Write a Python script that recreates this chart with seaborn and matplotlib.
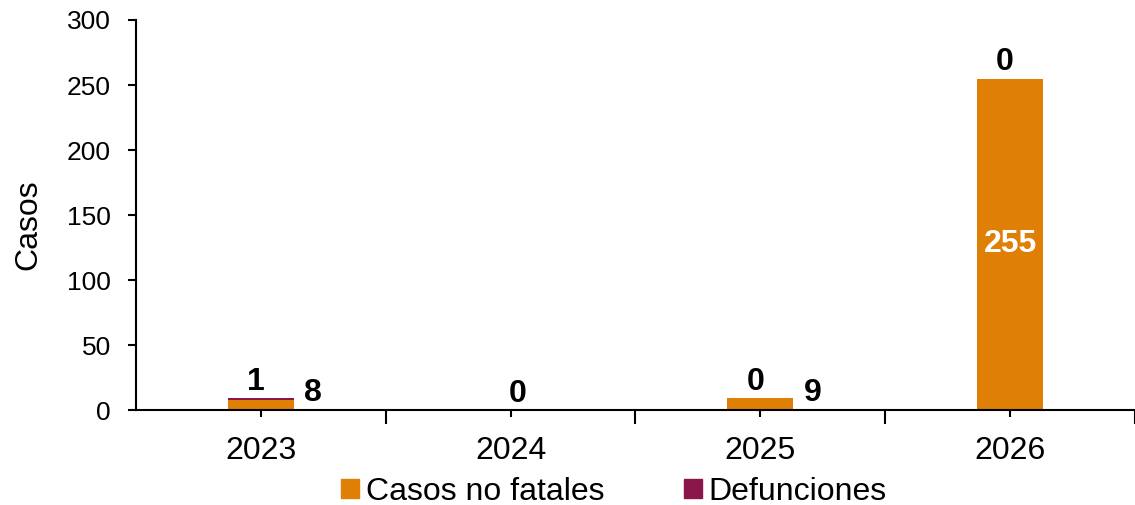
import matplotlib
matplotlib.use("Agg")
import matplotlib.pyplot as plt
import seaborn as sns
from matplotlib.patches import Patch
from matplotlib.ticker import FixedLocator
from pandas import DataFrame

sns.set_theme(style="white")
plt.rcParams["font.family"] = ["Liberation Sans", "DejaVu Sans"]
plt.rcParams["text.color"] = "black"
plt.rcParams["xtick.color"] = "black"
plt.rcParams["ytick.color"] = "black"
plt.rcParams["axes.labelcolor"] = "black"

years = ["2023", "2024", "2025", "2026"]
noFatales = [8, 0, 9, 255]
defunciones = [1, 0, 0, 0]

orange = "#E07F05"
purple = "#8B1649"

df = DataFrame({"year": years, "no_fatales": noFatales, "defunciones": defunciones})
df["total"] = df["no_fatales"] + df["defunciones"]

fig = plt.figure(figsize=(11.35, 5.05), dpi=100)
ax = fig.add_axes([0.1198, 0.188, 0.8802, 0.7724])

# total first (purple), then non-fatal on top of it -> stacked look
sns.barplot(x="year", y="total", data=df, color=purple, width=0.264,
            saturation=1, linewidth=0, edgecolor="none", ax=ax)
sns.barplot(x="year", y="no_fatales", data=df, color=orange, width=0.264,
            saturation=1, linewidth=0, edgecolor="none", ax=ax)

ax.set_ylim(0, 300)
ax.set_xlim(-0.5, 3.5)
ax.set_yticks(range(0, 301, 50))
ax.set_xlabel("")
ax.set_ylabel("Casos", fontsize=23)
ax.yaxis.set_label_coords(-0.093, 0.474)

for s in ["top", "right"]:
    ax.spines[s].set_visible(False)
for s in ["left", "bottom"]:
    ax.spines[s].set_color("black")
    ax.spines[s].set_linewidth(1.5)

ax.tick_params(axis="y", labelsize=19, length=6, width=1.5,
               left=True, direction="out", pad=12)
ax.tick_params(axis="x", which="major", labelsize=23, length=5, width=1.5,
               bottom=True, pad=14)
ax.xaxis.set_minor_locator(FixedLocator([0.5, 1.5, 2.5, 3.5]))
ax.tick_params(axis="x", which="minor", length=10, width=1.5, bottom=True)

lblKw = dict(fontsize=23, fontweight="bold", color="black")
for i, row in df.iterrows():
    if row["total"] == 0:
        ax.text(i + 0.03, 0.5, "0", ha="center", va="bottom", **lblKw)
        continue
    ax.text(i - 0.02, row["total"] + 1, str(row["defunciones"]),
            ha="center", va="bottom", **lblKw)
    if row["no_fatales"] > 40:
        ax.text(i, row["no_fatales"] / 2, str(row["no_fatales"]),
                ha="center", va="center", fontsize=23, fontweight="bold",
                color="white")
    else:
        ax.text(i + 0.21, 13, str(row["no_fatales"]),
                ha="center", va="center", **lblKw)

handles = [Patch(color=orange, label="Casos no fatales"),
           Patch(color=purple, label="Defunciones")]
fig.legend(handles=handles, loc="center", bbox_to_anchor=(0.541, 0.026),
           ncol=2, frameon=False, fontsize=23, handlelength=0.55,
           handleheight=0.55, handletextpad=0.22, columnspacing=2.5,
           borderpad=0, borderaxespad=0)

fig.savefig("out.png", dpi=100)
